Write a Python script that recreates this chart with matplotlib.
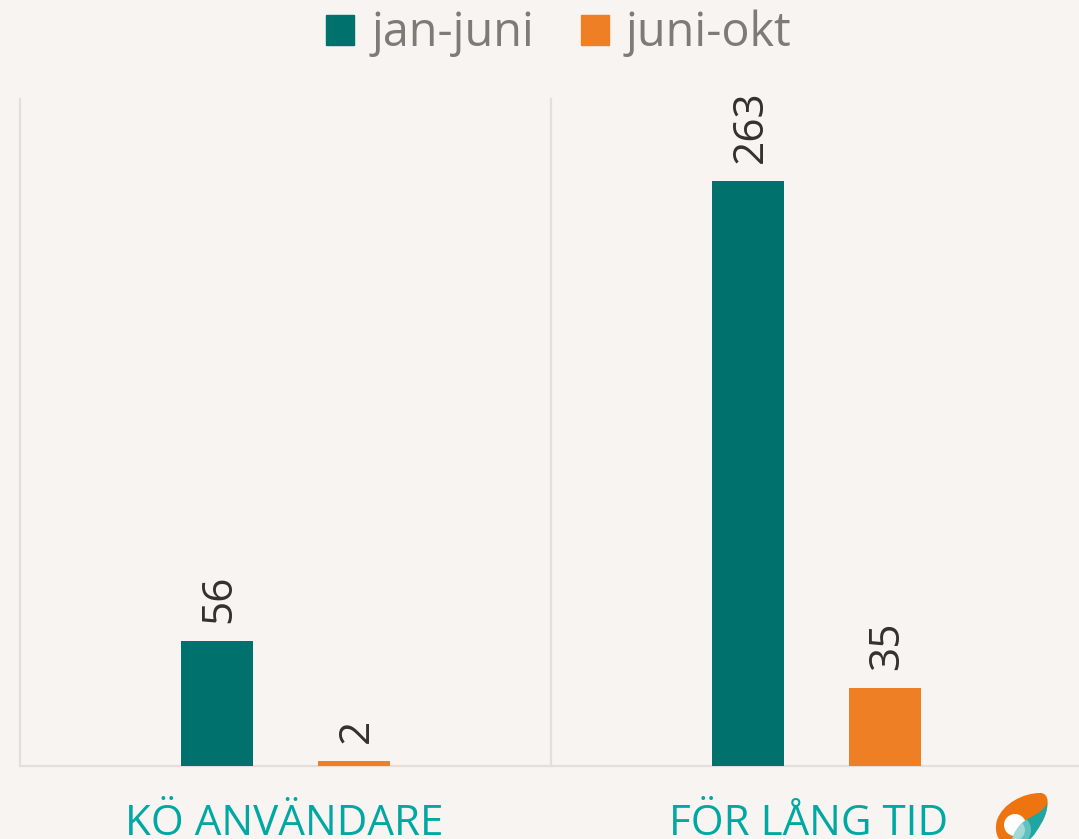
import matplotlib
matplotlib.use('Agg')
import matplotlib.pyplot as plt
from matplotlib.patches import PathPatch, Circle, Patch
from matplotlib.path import Path

plt.rcParams['font.family'] = ['Open Sans', 'DejaVu Sans']

# Data
categories = ['KÖ ANVÄNDARE', 'FÖR LÅNG TID']
janJuni = [56, 263]
juniOkt = [2, 35]
seriesNames = ['jan-juni', 'juni-okt']

BG = '#f8f4f1'
TEAL = '#00716c'
ORANGE = '#ee7f24'
GRID = '#e2dfdd'
W, H = 1079, 839

fig = plt.figure(figsize=(W / 100, H / 100), dpi=100, facecolor=BG)

# Plot area runs a little past the right edge, like the original
ax = fig.add_axes([20.3 / W, (H - 765.5) / H, 1061.5 / W, 666.5 / H], facecolor=BG)
ax.set_xlim(-0.5, 1.5)
ax.set_ylim(0, 300)

barWidth = 0.1365
offset = 0.129
pos = list(range(len(categories)))
bars1 = ax.bar([p - offset for p in pos], janJuni, barWidth, color=TEAL, zorder=3)
bars2 = ax.bar([p + offset for p in pos], juniOkt, barWidth, color=ORANGE, zorder=3)

for bars in (bars1, bars2):
    labels = ax.bar_label(bars, padding=13, rotation=90, fontsize=30.5, color='#33302e', clip_on=False)
    for t in labels:
        t.xyann = (1.8, 13)  # numbers sit slightly right of the bar centre

# Category separators
for x in (-0.5, 0.5, 1.5):
    ax.axvline(x, color=GRID, lw=1.6, zorder=1, clip_on=False)

for s in ('top', 'right', 'left'):
    ax.spines[s].set_visible(False)
ax.spines['bottom'].set_color(GRID)
ax.spines['bottom'].set_linewidth(1.6)
ax.set_yticks([])
# Second label sits left of its category centre in the original
ax.set_xticks([-0.003, 0.985])
ax.set_xticklabels(categories, fontsize=30.3, color='#00a8a3')
ax.tick_params(axis='x', length=0, pad=27)

# Legend with square keys
handles = [Patch(color=TEAL), Patch(color=ORANGE)]
fig.legend(handles, seriesNames, loc='center', bbox_to_anchor=(559 / W, (H - 33.5) / H),
           ncol=2, frameon=False, fontsize=33.7, labelcolor='#7f7a76',
           handlelength=0.6, handleheight=0.6, handletextpad=0.36, columnspacing=1.0)

# Logo in the corner, overlay in pixel coordinates
logo = fig.add_axes([0, 0, 1, 1], facecolor='none')
logo.set_xlim(0, W)
logo.set_ylim(H, 0)
logo.axis('off')
body = Path([(1040, 793), (1050, 793), (1049, 806), (1044, 818), (1036, 832), (1026, 842), (1015, 845),
             (1000, 848), (993, 834), (997, 820), (1003, 803), (1024, 793), (1040, 793)],
            [Path.MOVETO] + [Path.CURVE4] * 12)
logo.add_patch(PathPatch(body, fc='#ee7410', ec='none'))
logo.add_patch(Circle((1015, 825), 11, fc='white', ec='none'))
tealPart = Path([(1047, 803), (1042, 815), (1028, 816), (1020, 825), (1014, 832), (1012, 838), (1011, 845),
                 (1020, 846), (1030, 842), (1036, 832), (1043, 822), (1048, 812), (1047, 803)],
                [Path.MOVETO] + [Path.CURVE4] * 12)
tealPatch = PathPatch(tealPart, fc='#1fa6a2', ec='none')
logo.add_patch(tealPatch)
for r, a in ((16, 0.3), (10, 0.4)):
    shine = Circle((1015, 830), r, fc='white', ec='none', alpha=a)
    logo.add_patch(shine)
    shine.set_clip_path(tealPatch)

fig.savefig('out.png', dpi=100, facecolor=BG)
